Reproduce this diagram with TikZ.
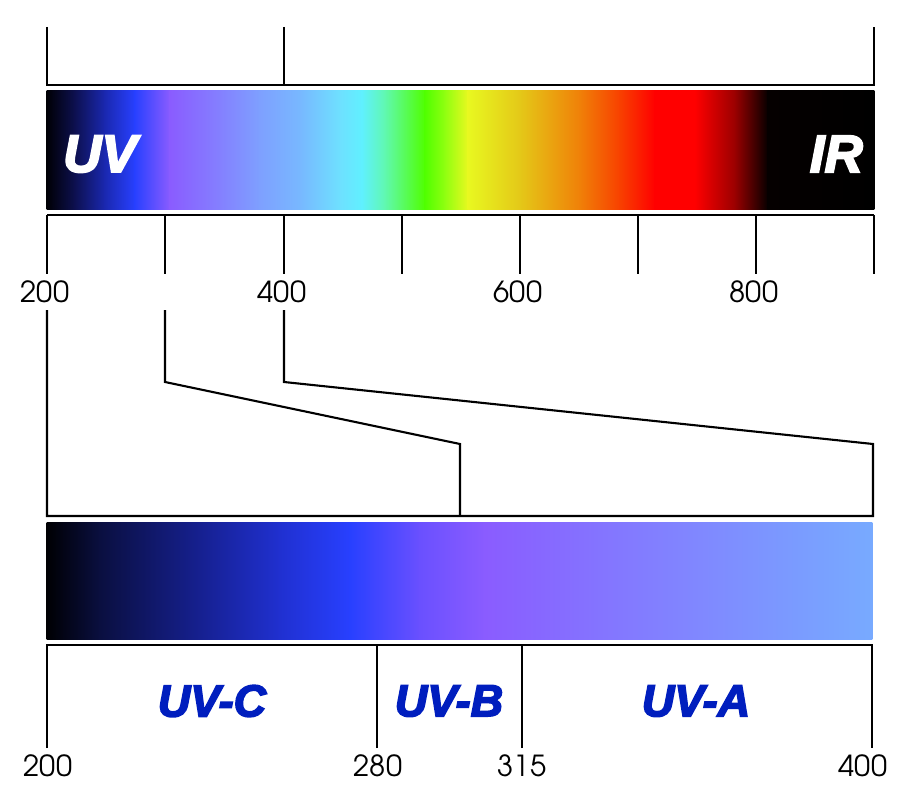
\documentclass[tikz,border=0pt]{standalone}
\usepackage{fontspec}
\setmainfont{texgyreadventor-regular.otf}
\newfontfamily\heavyfont[FakeBold=3.5]{Liberation Sans}
\begin{document}
\begin{tikzpicture}[x=1pt,y=-1pt,
  ln/.style={line width=2.1pt,black},
  num/.style={font=\fontsize{29}{30}\selectfont,inner sep=0pt,anchor=center},
  bandlbl/.style={font=\heavyfont\bfseries\itshape\fontsize{45}{45}\selectfont,text=uvblue,inner sep=0pt},
  barlbl/.style={font=\heavyfont\bfseries\itshape\fontsize{53}{53}\selectfont,text=white,inner sep=0pt}]
\definecolor{uvblue}{RGB}{0,30,190}
\useasboundingbox[fill=white] (0,0) rectangle (915,797);
% ---------- top spectrum bar ----------
\def\ya{91}\def\yb{209}
\foreach \xa/\ca/\xb/\cb in {
 47/{000005}/75/{0D1050},
 75/{0D1050}/105/{1A28B0},
 105/{1A28B0}/135/{2840FF},
 135/{2840FF}/170/{8A5CFF},
 170/{8A5CFF}/220/{8480FF},
 220/{8480FF}/260/{7EA0FF},
 260/{7EA0FF}/300/{78B8FF},
 300/{78B8FF}/340/{6EE0FF},
 340/{6EE0FF}/362/{60F0FF},
 362/{60F0FF}/385/{60F8B0},
 385/{60F8B0}/425/{50FF00},
 425/{50FF00}/445/{90FF10},
 445/{90FF10}/468/{E8F820},
 468/{E8F820}/520/{E4C818},
 520/{E4C818}/580/{F08008},
 580/{F08008}/620/{F84000},
 620/{F84000}/655/{FF0000},
 655/{FF0000}/695/{FF0000},
 695/{FF0000}/735/{9A0000},
 735/{9A0000}/768/{050000},
 768/{050000}/874/{000000}}{
  \definecolor{gA}{HTML}{\ca}\definecolor{gB}{HTML}{\cb}
  \shade[left color=gA,right color=gB] (\xa-0.3,\ya) rectangle (\xb+0.3,\yb);
}
\node[barlbl,anchor=west] (uv) at (63,154) {UV};
\node[barlbl,anchor=east] (ir) at (863,154) {IR};
% ---------- top bracket ----------
\coordinate (t1) at (47,27); \coordinate (t2) at (284,27); \coordinate (t3) at (874,27);
\draw[ln] (t1) -- (47,85) -- (874,85) -- (t3);
\draw[ln] (t2) -- (284,85);
% ---------- scale under top bar ----------
\draw[ln] (47,215) -- (874,215);
\foreach \x in {47,165,284,402,520,638,756,874}{
  \draw[ln] (\x,215) -- (\x,274);
}
\node[num] (n200) at (45,292) {200};
\node[num] (n400) at (282,292) {400};
\node[num] (n600) at (518,292) {600};
\node[num] (n800) at (754,292) {800};
% ---------- zoom connectors ----------
\coordinate (z0) at (47,310);
\coordinate (z3) at (165,310);
\coordinate (z4) at (284,310);
\draw[ln] (z0) -- (47,516) -- (873,516) -- (873,444) -- (284,382) -- (z4);
\draw[ln] (z3) -- (165,382) -- (460,444) -- (460,516);
% ---------- lower UV bar ----------
\def\ya{522}\def\yb{639}
\foreach \xa/\ca/\xb/\cb in {
 47/{000003}/100/{0A0F40},
 100/{0A0F40}/200/{162090},
 200/{162090}/280/{2030D0},
 280/{2030D0}/350/{2840FF},
 350/{2840FF}/420/{6A50FF},
 420/{6A50FF}/485/{8A5CFF},
 485/{8A5CFF}/600/{8474FF},
 600/{8474FF}/700/{8088FF},
 700/{8088FF}/800/{7A9CFF},
 800/{7A9CFF}/872/{78AAFF}}{
  \definecolor{gA}{HTML}{\ca}\definecolor{gB}{HTML}{\cb}
  \shade[left color=gA,right color=gB] (\xa-0.3,\ya) rectangle (\xb+0.3,\yb);
}
% ---------- lower bracket ----------
\coordinate (b1) at (47,748); \coordinate (b2) at (377,748);
\coordinate (b3) at (522,748); \coordinate (b4) at (872,748);
\draw[ln] (b1) -- (47,645) -- (872,645) -- (b4);
\draw[ln] (b2) -- (377,645);
\draw[ln] (b3) -- (522,645);
\node[bandlbl] (uvc) at (212,701) {UV-C};
\node[bandlbl] (uvb) at (449,701) {UV-B};
\node[bandlbl] (uva) at (696,701) {UV-A};
\node[num] (m200) at (48,766) {200};
\node[num] (m280) at (378,766) {280};
\node[num] (m315) at (522,766) {315};
\node[num] (m400) at (863,766) {400};
\end{tikzpicture}
\end{document}
